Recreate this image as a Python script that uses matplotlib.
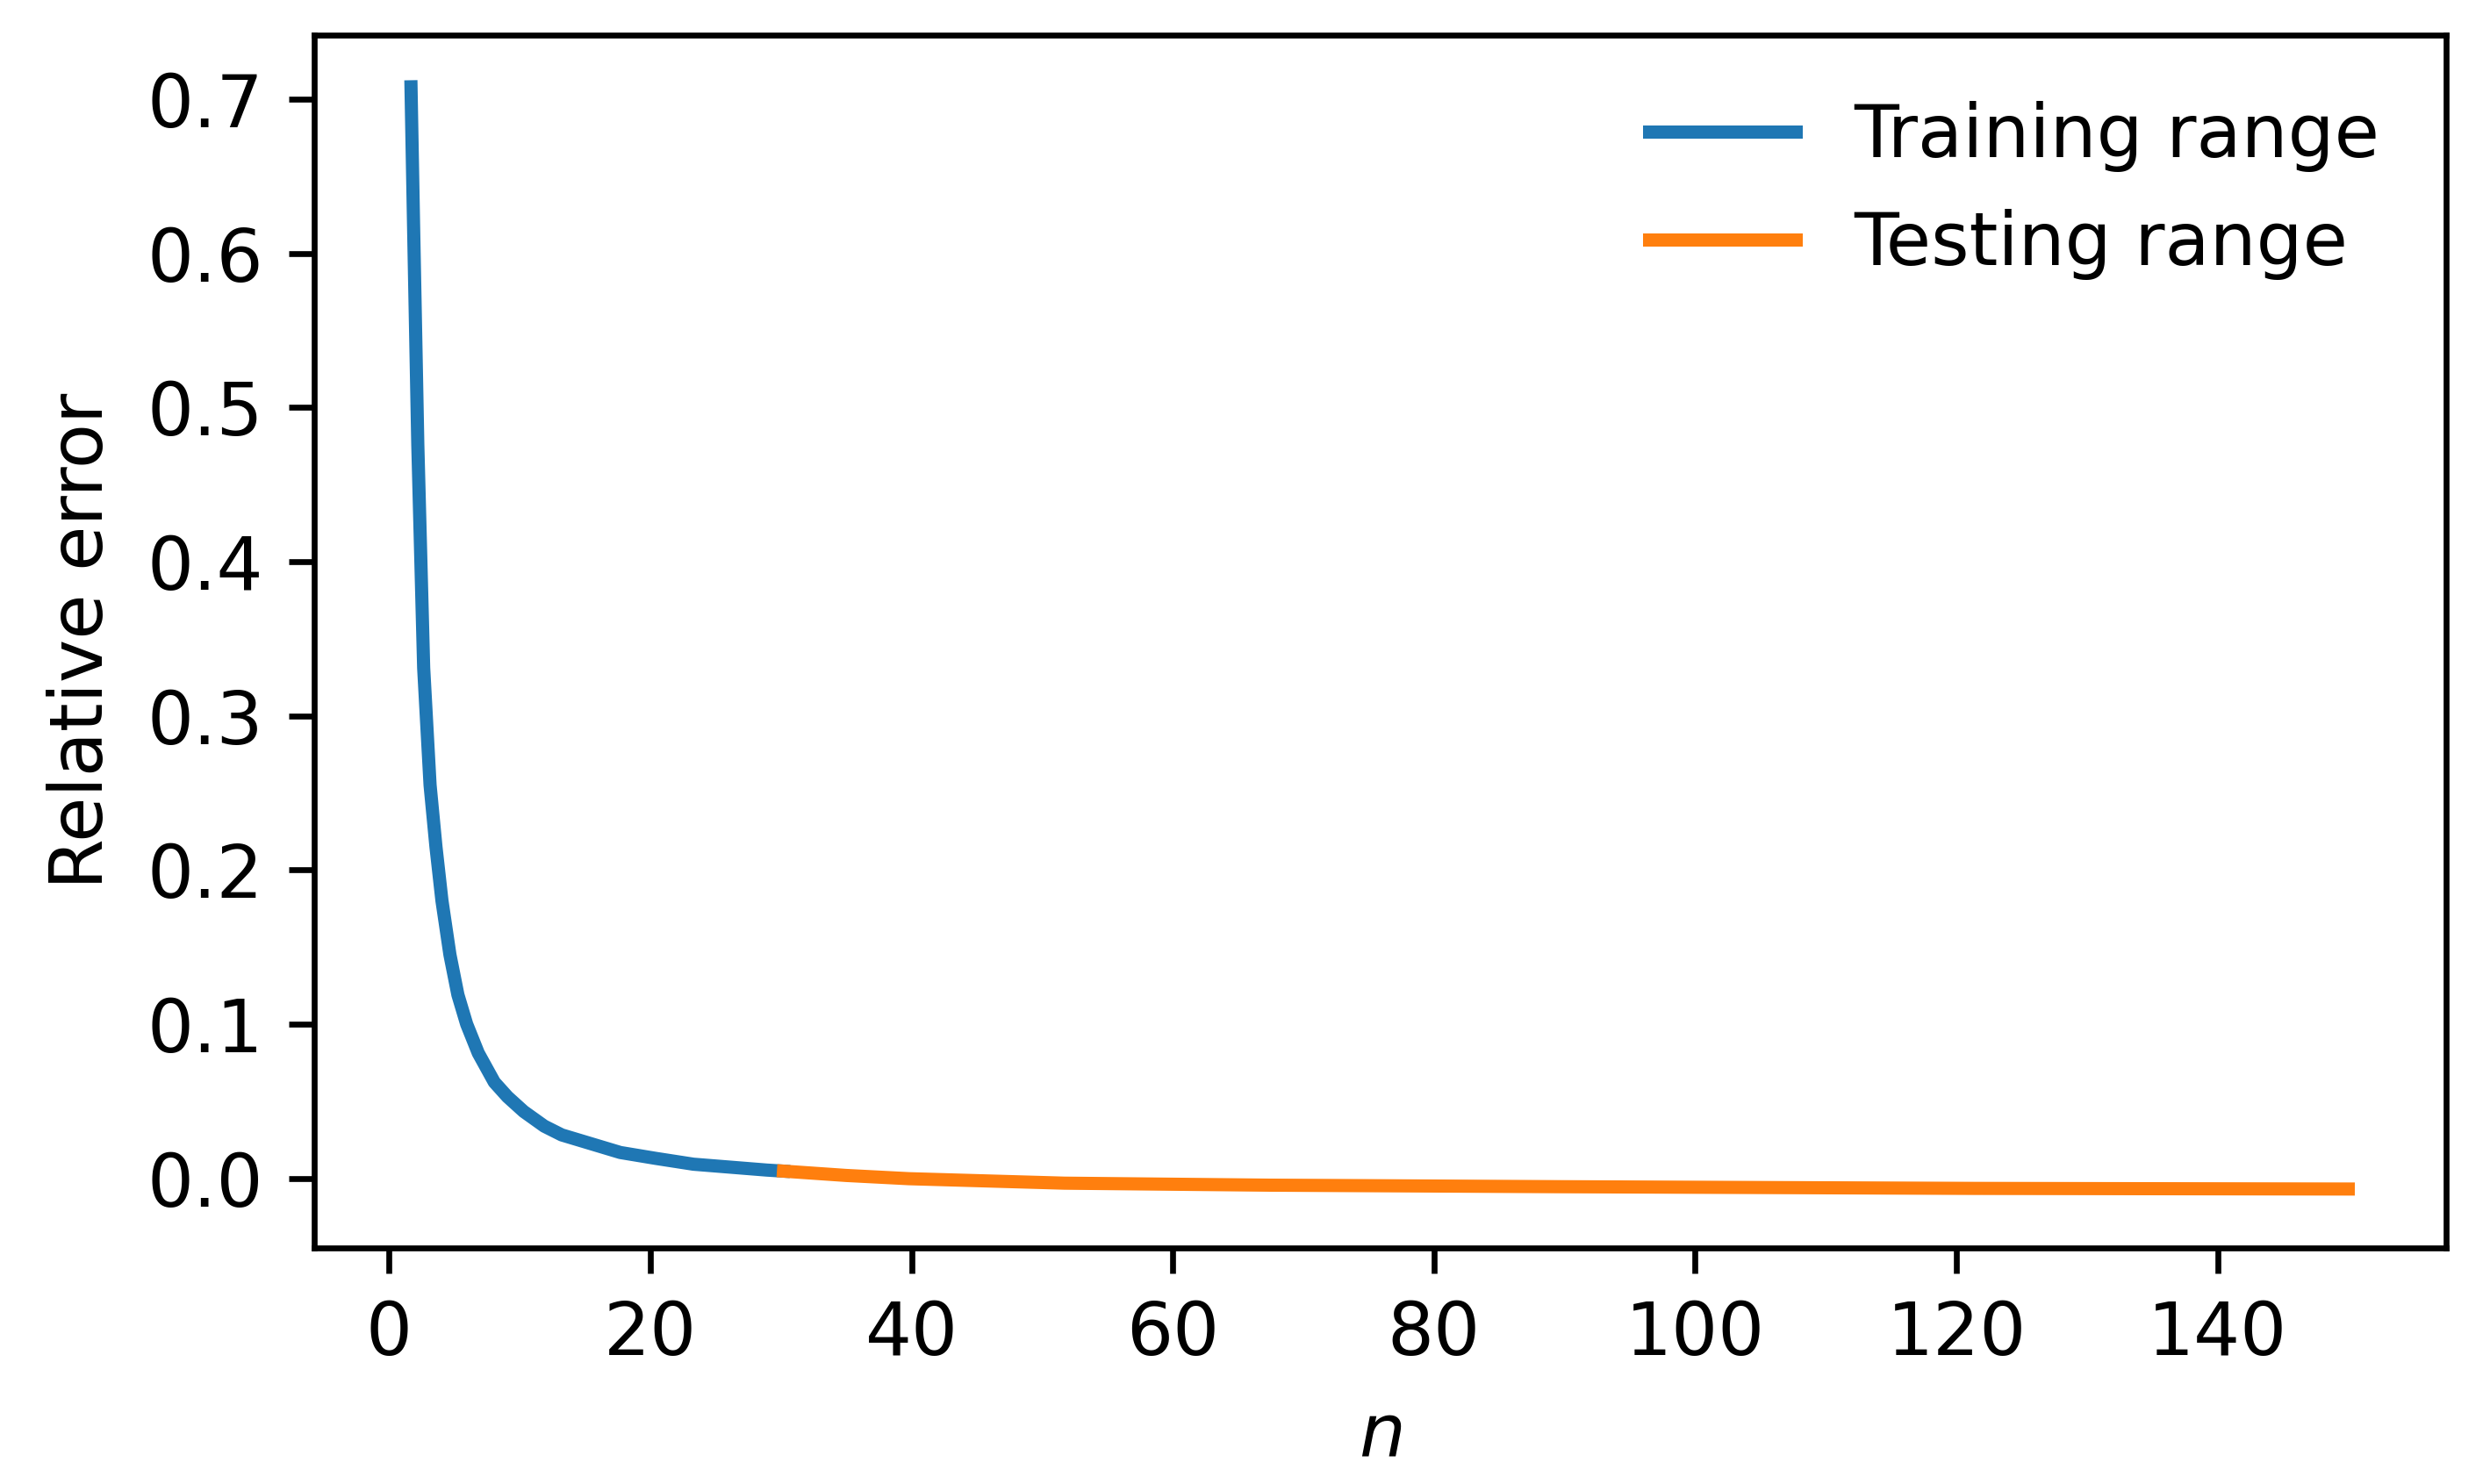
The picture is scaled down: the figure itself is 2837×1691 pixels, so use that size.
import matplotlib
matplotlib.use("Agg")
import matplotlib.pyplot as plt

# Training range
n_train = [1.68, 1.87, 2.20, 2.65, 3.14, 3.59, 4.05, 4.66, 5.27, 5.94, 6.83,
           8.06, 9.07, 10.31, 11.88, 13.22, 15.46, 17.7, 20.4, 23.3, 28.9, 30.2]
err_train = [0.708, 0.621, 0.476, 0.331, 0.255, 0.215, 0.180, 0.145, 0.119, 0.100, 0.0812,
             0.0623, 0.0528, 0.0433, 0.0338, 0.0281, 0.0224, 0.0167, 0.0129, 0.0091, 0.0053, 0.0046]

# Testing range
n_test = [30.2, 35.0, 39.8, 51.7, 67.4, 89.8, 121.4, 150.0]
err_test = [0.0046, 0.0018, -0.0003, -0.0032, -0.0045, -0.0055, -0.0066, -0.0070]

labels = ["Training range", "Testing range"]

fig = plt.figure(figsize=(2837 / 600, 1691 / 600), dpi=600)
ax = fig.add_axes([0.1263, 0.1593, 0.9822 - 0.1263, 0.9763 - 0.1593])

ax.plot(n_train, err_train, color="tab:blue", lw=1.8, label=labels[0])
ax.plot(n_test, err_test, color="tab:orange", lw=1.8, label=labels[1])

ax.set_xlim(-5.71, 157.46)
ax.set_ylim(-0.045, 0.7415)
ax.set_xticks([0, 20, 40, 60, 80, 100, 120, 140])
ax.set_yticks([0.0, 0.1, 0.2, 0.3, 0.4, 0.5, 0.6, 0.7])

ax.set_xlabel("$n$")
ax.set_ylabel("Relative error")
ax.legend(loc="upper right", frameon=False)

fig.savefig("out.png", dpi=600)
